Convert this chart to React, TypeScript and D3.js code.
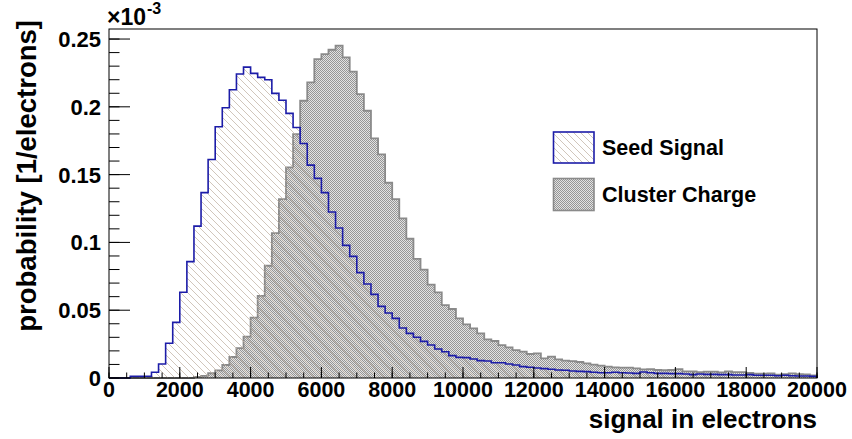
import React from "react";
import * as d3 from "d3";

// ---------- data (values in units of 1e-3 per electron) ----------
const BIN_WIDTH = 200; // electrons per bin, 100 bins from 0 to 20000
const X_MAX = 20000;
const Y_MAX = 0.2574;

const seedSignal = [
  0, 0, 0, 0.0012, 0.0012, 0.0013, 0.0042, 0.0103, 0.0256, 0.041,
  0.0632, 0.0858, 0.112, 0.1367, 0.1612, 0.1853, 0.1993, 0.2126, 0.2242, 0.2293,
  0.2247, 0.2217, 0.22, 0.2099, 0.2048, 0.1952, 0.1848, 0.173, 0.157, 0.1472,
  0.1367, 0.1224, 0.1106, 0.0978, 0.0897, 0.0777, 0.0693, 0.0617, 0.0528, 0.0479,
  0.044, 0.0369, 0.0329, 0.03, 0.027, 0.0243, 0.0214, 0.0194, 0.0165, 0.0152,
  0.015, 0.014, 0.0128, 0.0125, 0.0113, 0.0113, 0.0103, 0.0096, 0.0084, 0.0079,
  0.0074, 0.0069, 0.0064, 0.0059, 0.0057, 0.0052, 0.0049, 0.0047, 0.0042, 0.0039,
  0.0039, 0.0042, 0.0039, 0.0037, 0.0034, 0.0044, 0.0039, 0.0034, 0.0034, 0.0032,
  0.0032, 0.0029, 0.0025, 0.0029, 0.0027, 0.0027, 0.0025, 0.0025, 0.0022, 0.0022,
  0.0025, 0.002, 0.002, 0.002, 0.0017, 0.002, 0.0017, 0.0015, 0.0015, 0.0012,
];

const clusterCharge = [
  0, 0, 0, 0, 0, 0, 0, 0, 0, 0,
  0, 0, 0.0008, 0.0015, 0.0035, 0.0056, 0.0096, 0.0155, 0.022, 0.0305,
  0.0445, 0.0605, 0.0828, 0.1069, 0.132, 0.1553, 0.1799, 0.2045, 0.218, 0.2352,
  0.2389, 0.2421, 0.2451, 0.2365, 0.2259, 0.2094, 0.1971, 0.1767, 0.1649, 0.144,
  0.132, 0.1177, 0.1027, 0.0878, 0.0799, 0.0688, 0.0632, 0.0538, 0.0509, 0.044,
  0.0396, 0.0366, 0.0329, 0.0285, 0.0273, 0.0243, 0.0226, 0.0206, 0.0194, 0.0177,
  0.0182, 0.0145, 0.0157, 0.0138, 0.0128, 0.0125, 0.0118, 0.0108, 0.0098, 0.0091,
  0.0084, 0.0079, 0.0076, 0.0076, 0.0071, 0.0064, 0.0066, 0.0059, 0.0057, 0.0059,
  0.0066, 0.0049, 0.0049, 0.0044, 0.0047, 0.0047, 0.0042, 0.0049, 0.0044, 0.0044,
  0.0037, 0.0032, 0.0032, 0.0034, 0.0025, 0.0029, 0.0034, 0.0029, 0.0027, 0.002,
];

const xTickValues = [0, 2000, 4000, 6000, 8000, 10000, 12000, 14000, 16000, 18000, 20000];
const xTickLabels = ["0", "2000", "4000", "6000", "8000", "10000", "12000", "14000", "16000", "18000", "20000"];
const yTickValues = [0, 0.05, 0.1, 0.15, 0.2, 0.25];
const yTickLabels = ["0", "0.05", "0.1", "0.15", "0.2", "0.25"];

const legendLabels = ["Seed Signal", "Cluster Charge"];
const xTitle = "signal in electrons";
const yTitle = "probability [1/electrons]";

// ---------- layout ----------
const W = 852;
const H = 439;
const PL = 109, PR = 817, PT = 29, PB = 378;
const FONT = "'Liberation Sans', Arial, Helvetica, sans-serif";

export default function App() {
  const x = d3.scaleLinear().domain([0, X_MAX]).range([PL, PR]);
  const y = d3.scaleLinear().domain([0, Y_MAX]).range([PB, PT]);

  const stepPoints = (vals: number[]): [number, number][] => {
    const pts: [number, number][] = [[0, 0]];
    vals.forEach((v, i) => {
      pts.push([i * BIN_WIDTH, v]);
      pts.push([(i + 1) * BIN_WIDTH, v]);
    });
    pts.push([vals.length * BIN_WIDTH, 0]);
    return pts;
  };
  const line = d3
    .line<[number, number]>()
    .x((d) => x(d[0]))
    .y((d) => y(d[1]));

  const seedPath = line(stepPoints(seedSignal)) || "";
  const clusterPath = line(stepPoints(clusterCharge)) || "";

  const xMinor = d3.range(0, X_MAX + 1, 500);
  const yMinor = d3.range(0, Y_MAX, 0.01);

  return (
    <svg
      width={W}
      height={H}
      style={{ position: "absolute", left: 0, top: 0, background: "#fff" }}
      fontFamily={FONT}
    >
      <defs>
        <pattern id="checker" width="2" height="2" patternUnits="userSpaceOnUse">
          <rect width="2" height="2" fill="#e2e2e2" />
          <rect x="0" y="0" width="1" height="1" fill="#959595" />
          <rect x="1" y="1" width="1" height="1" fill="#959595" />
        </pattern>
        <pattern id="hatch" width="7" height="7" patternUnits="userSpaceOnUse">
          <line x1="0" y1="0" x2="7" y2="7" stroke="#c2b3a4" strokeWidth="0.75" />
          <line x1="-1" y1="6" x2="1" y2="8" stroke="#c2b3a4" strokeWidth="0.75" />
          <line x1="6" y1="-1" x2="8" y2="1" stroke="#c2b3a4" strokeWidth="0.75" />
        </pattern>
      </defs>

      <rect x={0} y={0} width={W} height={H} fill="#fff" />

      {/* Cluster charge histogram */}
      <path d={clusterPath + "Z"} fill="url(#checker)" stroke="none" />
      <path d={clusterPath} fill="none" stroke="#8a8a8a" strokeWidth={1.8} />

      {/* Seed signal histogram */}
      <path d={seedPath + "Z"} fill="url(#hatch)" stroke="none" />
      <path d={seedPath} fill="none" stroke="#1c1ca8" strokeWidth={1.6} />

      {/* frame */}
      <rect x={PL} y={PT} width={PR - PL} height={PB - PT} fill="none" stroke="#000" strokeWidth={1} />

      {/* x ticks */}
      {xMinor.map((v) => (
        <line key={"xm" + v} x1={x(v)} x2={x(v)} y1={PB} y2={PB - 5.5} stroke="#000" strokeWidth={1} />
      ))}
      {xTickValues.map((v) => (
        <line key={"xM" + v} x1={x(v)} x2={x(v)} y1={PB} y2={PB - 11} stroke="#000" strokeWidth={1} />
      ))}
      {xTickValues.map((v, i) => (
        <text key={"xl" + v} x={x(v)} y={397} textAnchor="middle" fontSize={21.5} fontWeight="bold" fill="#000">
          {xTickLabels[i]}
        </text>
      ))}

      {/* y ticks */}
      {yMinor.map((v) => (
        <line key={"ym" + v} x1={PL} x2={PL + 10.5} y1={y(v)} y2={y(v)} stroke="#000" strokeWidth={1} />
      ))}
      {yTickValues.map((v) => (
        <line key={"yM" + v} x1={PL} x2={PL + 21} y1={y(v)} y2={y(v)} stroke="#000" strokeWidth={1} />
      ))}
      {yTickValues.map((v, i) => (
        <text key={"yl" + v} x={101} y={y(v) + 8} textAnchor="end" fontSize={22} fontWeight="bold" fill="#000">
          {yTickLabels[i]}
        </text>
      ))}

      {/* exponent */}
      <text x={107} y={25} fontSize={23} fontWeight="bold" fill="#000">
        ×10
      </text>
      <text x={147} y={14} fontSize={16} fontWeight="bold" fill="#000">
        -3
      </text>

      {/* axis titles */}
      <text x={PR} y={428} textAnchor="end" fontSize={26} fontWeight="bold" fill="#000">
        {xTitle}
      </text>
      <text
        transform={`translate(36, 20) rotate(-90)`}
        textAnchor="end"
        fontSize={27.5}
        fontWeight="bold"
        fill="#000"
      >
        {yTitle}
      </text>

      {/* legend */}
      <rect x={553.5} y={132} width={40.5} height={31} fill="url(#hatch)" stroke="#1c1ca8" strokeWidth={1.6} />
      <text x={602} y={155} fontSize={21.5} fontWeight="bold" fill="#000">
        {legendLabels[0]}
      </text>
      <rect x={553.5} y={178.5} width={40.5} height={32} fill="url(#checker)" stroke="#8a8a8a" strokeWidth={1.6} />
      <text x={602} y={202} fontSize={21.5} fontWeight="bold" fill="#000">
        {legendLabels[1]}
      </text>
    </svg>
  );
}
